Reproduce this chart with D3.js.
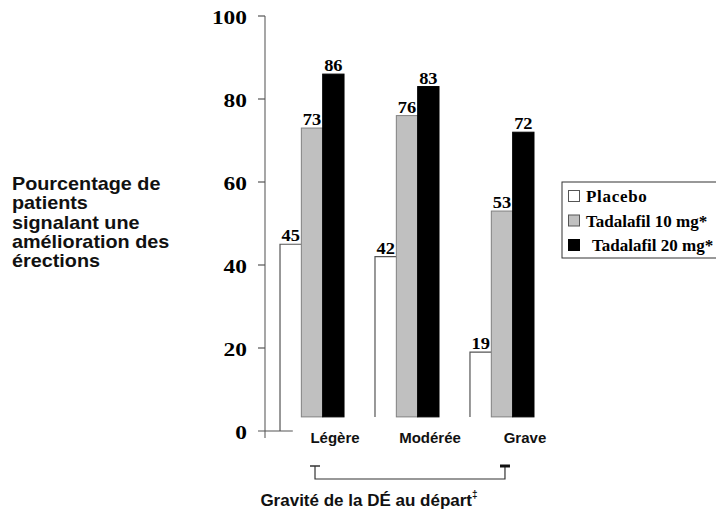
<!DOCTYPE html>
<html><head><meta charset="utf-8">
<script src="https://cdn.jsdelivr.net/npm/d3@7"></script>
<style>body{margin:0;background:#fff}</style></head>
<body><svg id="c" width="716" height="512"></svg>
<script>
const categories = ["Légère", "Modérée", "Grave"];
const seriesNames = ["Placebo", "Tadalafil 10 mg*", "Tadalafil 20 mg*"];
const placebo = [45, 42, 19];
const tadalafil10 = [73, 76, 53];
const tadalafil20 = [86, 83, 72];
const yTicks = [0, 20, 40, 60, 80, 100];
const yTitleLines = ["Pourcentage de", "patients", "signalant une", "amélioration des", "érections"];
const xTitle = "Gravité de la DÉ au départ";
const xTitleMark = "‡";
const barFloor = 3.4; // bars stop slightly above the zero line, as in the original

const seriesValues = [placebo, tadalafil10, tadalafil20];
const fills = ["#ffffff", "#c0c0c0", "#000000"];
const strokes = ["#555555", "#808080", "#000000"];
const serif = "'Liberation Serif','Times New Roman',serif";
const sans = "'Liberation Sans',Arial,sans-serif";

const svg = d3.select("#c");
const y = d3.scaleLinear().domain([0, 100]).range([431, 16]);
const x = d3.scaleBand().domain(categories).range([265, 549]).paddingInner(0.326).paddingOuter(0.158);
const xs = d3.scaleBand().domain(seriesNames).range([0, x.bandwidth()]);

// y axis
const axisX = 265;
svg.append("line").attr("x1", axisX).attr("x2", axisX).attr("y1", y(100)).attr("y2", y(0) + 7)
  .attr("stroke", "#777").attr("stroke-width", 1.3);
yTicks.forEach(t => {
  svg.append("line").attr("x1", axisX - 7).attr("x2", t === 0 ? x(categories[0]) + xs.bandwidth() * 0.6 : axisX)
    .attr("y1", y(t)).attr("y2", y(t)).attr("stroke", "#555").attr("stroke-width", 1.2);
  svg.append("g").attr("transform", `translate(${axisX - 18},${y(t) + 8}) scale(1.2,1)`)
    .append("text").attr("text-anchor", "end").attr("font-family", serif).attr("font-weight", "bold")
    .attr("font-size", 19.5).text(t);
});

// bars
categories.forEach((c, ci) => {
  seriesNames.forEach((s, si) => {
    const v = seriesValues[si][ci];
    const x0 = x(c) + xs(s), w = xs.bandwidth();
    if (si === 0) {
      svg.append("rect").attr("x", x0).attr("y", y(v)).attr("width", w).attr("height", y(barFloor) - y(v))
        .attr("fill", "#fff");
      svg.append("path").attr("d", `M${x0},${y(ci === 0 ? 0 : barFloor)}V${y(v)}H${x0 + w}`)
        .attr("fill", "none").attr("stroke", strokes[0]).attr("stroke-width", 1.2);
    } else {
      svg.append("rect").attr("x", x0).attr("y", y(v)).attr("width", w).attr("height", y(barFloor) - y(v))
        .attr("fill", fills[si]).attr("stroke", strokes[si]).attr("stroke-width", 1);
    }
    svg.append("g").attr("transform", `translate(${x0 + w / 2},${y(v) - 3}) scale(1.15,1)`)
      .append("text").attr("text-anchor", "middle").attr("font-family", serif).attr("font-weight", "bold")
      .attr("font-size", 16).text(v);
  });
  svg.append("text").attr("x", x(c) + x.bandwidth() / 2 + 23).attr("y", 443)
    .attr("text-anchor", "middle").attr("font-family", sans).attr("font-weight", "bold")
    .attr("font-size", 15).attr("fill", "#111").text(c);
});

// bracket
const bl = x(categories[0]) + 35, br = x(categories[2]) + 35;
svg.append("path").attr("d", `M${bl},466V479H${br}V466`).attr("fill", "none").attr("stroke", "#333").attr("stroke-width", 1.2);
svg.append("line").attr("x1", bl - 5).attr("x2", bl + 5).attr("y1", 466).attr("y2", 466).attr("stroke", "#333").attr("stroke-width", 1.5);
svg.append("line").attr("x1", br - 5).attr("x2", br + 5).attr("y1", 466).attr("y2", 466).attr("stroke", "#111").attr("stroke-width", 3);

// x title
const xt = svg.append("text").attr("x", 369).attr("y", 506).attr("text-anchor", "middle")
  .attr("font-family", sans).attr("font-weight", "bold").attr("font-size", 17).attr("fill", "#111");
xt.append("tspan").text(xTitle);
xt.append("tspan").attr("font-size", 10).attr("dy", -8).text(xTitleMark);

// y title
const yt = svg.append("g").attr("transform", "translate(12,190) scale(1.1,1)");
yTitleLines.forEach((l, i) => {
  yt.append("text").attr("x", 0).attr("y", i * 19.3).attr("font-family", sans).attr("font-weight", "bold")
    .attr("font-size", 18).attr("fill", "#111").text(l);
});

// legend
svg.append("rect").attr("x", 562).attr("y", 182).attr("width", 200).attr("height", 76)
  .attr("fill", "#fff").attr("stroke", "#333").attr("stroke-width", 1);
seriesNames.forEach((s, i) => {
  const cy = 196 + i * 24.5;
  svg.append("rect").attr("x", 568.5).attr("y", cy - 5.5).attr("width", 11).attr("height", 11)
    .attr("fill", fills[i]).attr("stroke", i === 2 ? "#000" : "#555").attr("stroke-width", 1);
  svg.append("text").attr("x", i === 2 ? 592 : 586).attr("y", cy + 6).attr("font-family", serif)
    .attr("font-weight", "bold").attr("font-size", 17).attr("letter-spacing", i === 0 ? 0.7 : 0).text(s);
});
</script></body></html>
